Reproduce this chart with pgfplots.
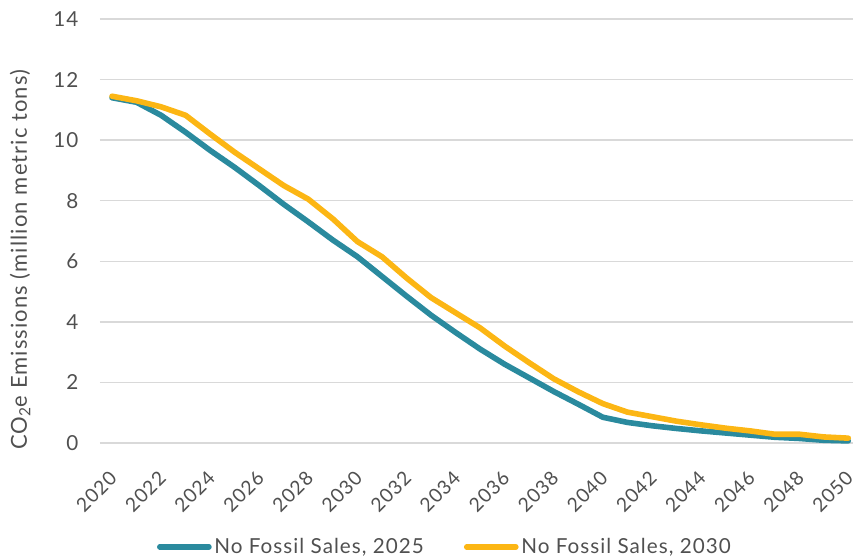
\documentclass[border=0pt]{standalone}
\usepackage{fontspec}
\setmainfont{Lato}[LetterSpace=5]
\usepackage{pgfplots}
\pgfplotsset{compat=1.18}
\definecolor{tealline}{RGB}{42,138,158}
\definecolor{goldline}{RGB}{252,182,20}
\definecolor{txt}{RGB}{80,80,80}
\definecolor{gridc}{RGB}{217,217,217}

\begin{document}
\begin{tikzpicture}
  % page box: 853x560 px at 0.75pt per px, axis origin at px (100,443)
  \useasboundingbox (-75pt,-87.75pt) rectangle (564.75pt,332.25pt);
  \begin{axis}[
    scale only axis,
    width=570.4pt, height=318pt,
    xmin=2019.51, xmax=2050.5,
    ymin=0, ymax=14,
    xtick={2020,2022,...,2050},
    ytick={0,2,...,14},
    axis line style={draw=none},
    major tick length=0pt,
    ymajorgrids, grid style={gridc, line width=1pt},
    /pgf/number format/assume math mode=true,
    tick label style={font=\fontsize{15.5}{17}\selectfont, text=txt},
    x tick label style={rotate=45, anchor=east, inner sep=0pt,
                        font=\fontsize{14.5}{16}\selectfont,
                        xshift=-16pt, yshift=-17.5pt,
                        /pgf/number format/1000 sep=},
    y tick label style={inner sep=0pt, xshift=-16pt},
    ylabel={CO\textsubscript{2}e Emissions (million metric tons)},
    ylabel style={at={(axis description cs:-0.105,0.432)}, anchor=center,
                  font=\fontsize{16.5}{18}\selectfont, text=txt},
    legend columns=2,
    legend style={at={(axis description cs:0.454,-0.245)}, anchor=center,
                  draw=none, fill=none, font=\fontsize{15.5}{17}\selectfont,
                  text=txt, inner sep=0pt,
                  /tikz/every even column/.append style={column sep=28pt}},
    legend cell align=left,
    legend image code/.code={\draw[#1, line width=4pt, line cap=round] (2pt,0pt) -- (39pt,0pt);},
  ]
  \addplot[tealline, line width=4.2pt, line join=round, line cap=round] coordinates {
    (2020,11.40) (2021,11.25) (2022,10.82) (2023,10.26) (2024,9.66)
    (2025,9.10) (2026,8.50) (2027,7.88) (2028,7.30) (2029,6.70)
    (2030,6.15) (2031,5.50) (2032,4.85) (2033,4.22) (2034,3.65)
    (2035,3.10) (2036,2.60) (2037,2.15) (2038,1.70) (2039,1.28)
    (2040,0.85) (2041,0.68) (2042,0.57) (2043,0.48) (2044,0.40)
    (2045,0.33) (2046,0.26) (2047,0.19) (2048,0.15) (2049,0.09)
    (2050,0.07)
  };
  \addlegendentry{No Fossil Sales, 2025}
  \addplot[goldline, line width=4.2pt, line join=round, line cap=round] coordinates {
    (2020,11.45) (2021,11.30) (2022,11.10) (2023,10.82) (2024,10.20)
    (2025,9.60) (2026,9.05) (2027,8.50) (2028,8.05) (2029,7.40)
    (2030,6.65) (2031,6.15) (2032,5.45) (2033,4.80) (2034,4.30)
    (2035,3.80) (2036,3.20) (2037,2.65) (2038,2.12) (2039,1.69)
    (2040,1.30) (2041,1.02) (2042,0.87) (2043,0.72) (2044,0.60)
    (2045,0.49) (2046,0.40) (2047,0.29) (2048,0.29) (2049,0.20)
    (2050,0.16)
  };
  \addlegendentry{No Fossil Sales, 2030}
  \end{axis}
\end{tikzpicture}
\end{document}
